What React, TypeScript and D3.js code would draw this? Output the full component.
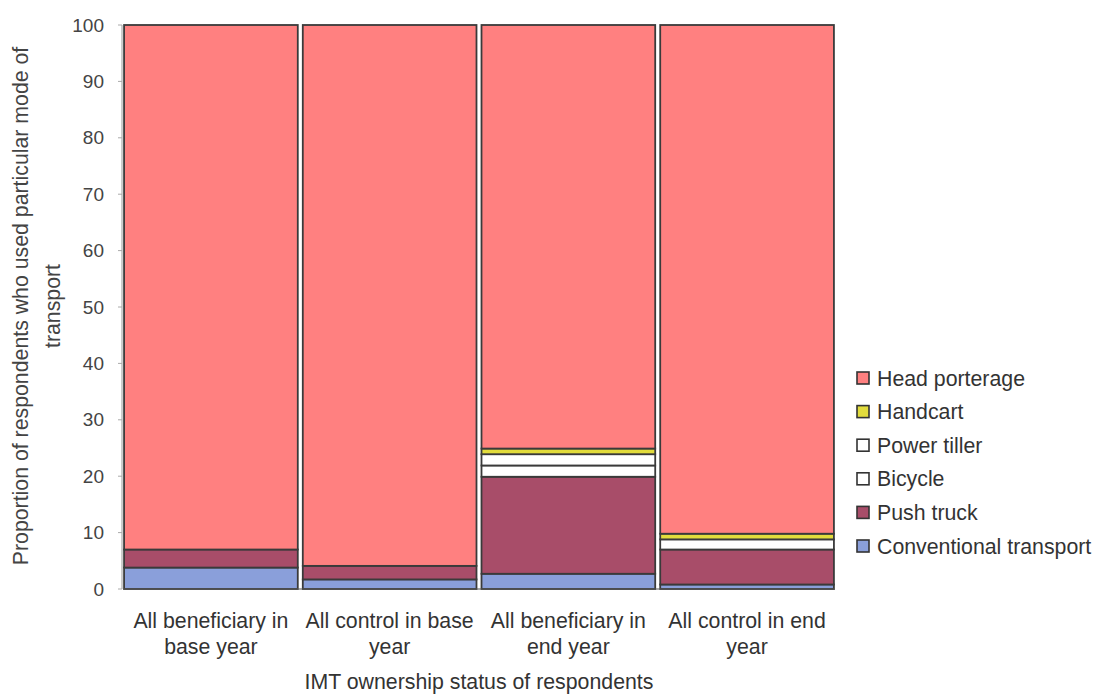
import React from "react";
import * as d3 from "d3";

const categories = [
  ["All beneficiary in", "base year"],
  ["All control in base", "year"],
  ["All beneficiary in", "end year"],
  ["All control in end", "year"],
];
const seriesNames = ["Conventional transport", "Push truck", "Bicycle", "Power tiller", "Handcart", "Head porterage"];
const conventional = [3.8, 1.7, 2.7, 0.8];
const pushTruck = [3.2, 2.4, 17.2, 6.2];
const bicycle = [0, 0, 2.0, 1.8];
const powerTiller = [0, 0, 2.0, 0];
const handcart = [0, 0, 1.0, 1.0];
const headPorterage = [93.0, 95.9, 75.1, 90.2];
const yTicks = [0, 10, 20, 30, 40, 50, 60, 70, 80, 90, 100];
const colors = ["#8A9FDA", "#A84D69", "#FFFFFF", "#FFFFFF", "#E2DC3C", "#FF8080"];

export default function App() {
  const W = 1096, H = 694;
  const left = 123, right = 835, top = 25, bottom = 589;
  const x = d3.scaleBand<number>().domain([0, 1, 2, 3]).range([left, right]).paddingInner(0.028).paddingOuter(0.006);
  const y = d3.scaleLinear().domain([0, 100]).range([bottom, top]);
  const rows = categories.map((_, i) => ({
    i,
    s0: conventional[i], s1: pushTruck[i], s2: bicycle[i], s3: powerTiller[i], s4: handcart[i], s5: headPorterage[i],
  }));
  const stack = d3.stack<any>().keys(["s0", "s1", "s2", "s3", "s4", "s5"]);
  const layers = stack(rows);
  const legendOrder = [5, 4, 3, 2, 1, 0];
  const font = "Liberation Sans, Arial, sans-serif";
  const fs = 21.3;
  return (
    <svg width={W} height={H} style={{ position: "absolute", left: 0, top: 0, background: "#fff" }}>
      <line x1={left - 1} x2={left - 1} y1={top} y2={bottom} stroke="#999" />
      {yTicks.map((t) => (
        <g key={t}>
          <line x1={left - 5} x2={left - 1} y1={y(t)} y2={y(t)} stroke="#aaa" />
          <text x={104} y={y(t)} dy="0.35em" textAnchor="end" fontFamily={font} fontSize={19} fill="#444">{t}</text>
        </g>
      ))}
      {layers.map((layer, li) =>
        layer.map((d, i) =>
          d[1] - d[0] > 0 ? (
            <rect key={li + "-" + i} x={x(i)!} width={x.bandwidth()} y={y(d[1])} height={y(d[0]) - y(d[1])}
              fill={colors[li]} stroke="#3a3a3a" strokeWidth={1.8} />
          ) : null
        )
      )}
      <line x1={left} x2={right} y1={bottom} y2={bottom} stroke="#555" />
      {categories.map((c, i) => (
        <text key={i} x={x(i)! + x.bandwidth() / 2} y={628} textAnchor="middle" fontFamily={font} fontSize={fs} fill="#333">
          <tspan x={x(i)! + x.bandwidth() / 2} dy={0}>{c[0]}</tspan>
          <tspan x={x(i)! + x.bandwidth() / 2} dy={26}>{c[1]}</tspan>
        </text>
      ))}
      <text x={(left + right) / 2} y={689} textAnchor="middle" fontFamily={font} fontSize={fs} fill="#333">IMT ownership status of respondents</text>
      <text transform="translate(28,306) rotate(-90)" textAnchor="middle" fontFamily={font} fontSize={fs} fill="#444">Proportion of respondents who used particular mode of</text>
      <text transform="translate(60,306) rotate(-90)" textAnchor="middle" fontFamily={font} fontSize={fs} fill="#444">transport</text>
      {legendOrder.map((si, k) => (
        <g key={si} transform={`translate(857,${378 + k * 33.6})`}>
          <rect x={0} y={-6} width={12} height={12} fill={colors[si]} stroke="#333" strokeWidth={1.6} />
          <text x={20} y={0} dy="0.36em" fontFamily={font} fontSize={fs} fill="#333">{seriesNames[si]}</text>
        </g>
      ))}
    </svg>
  );
}
